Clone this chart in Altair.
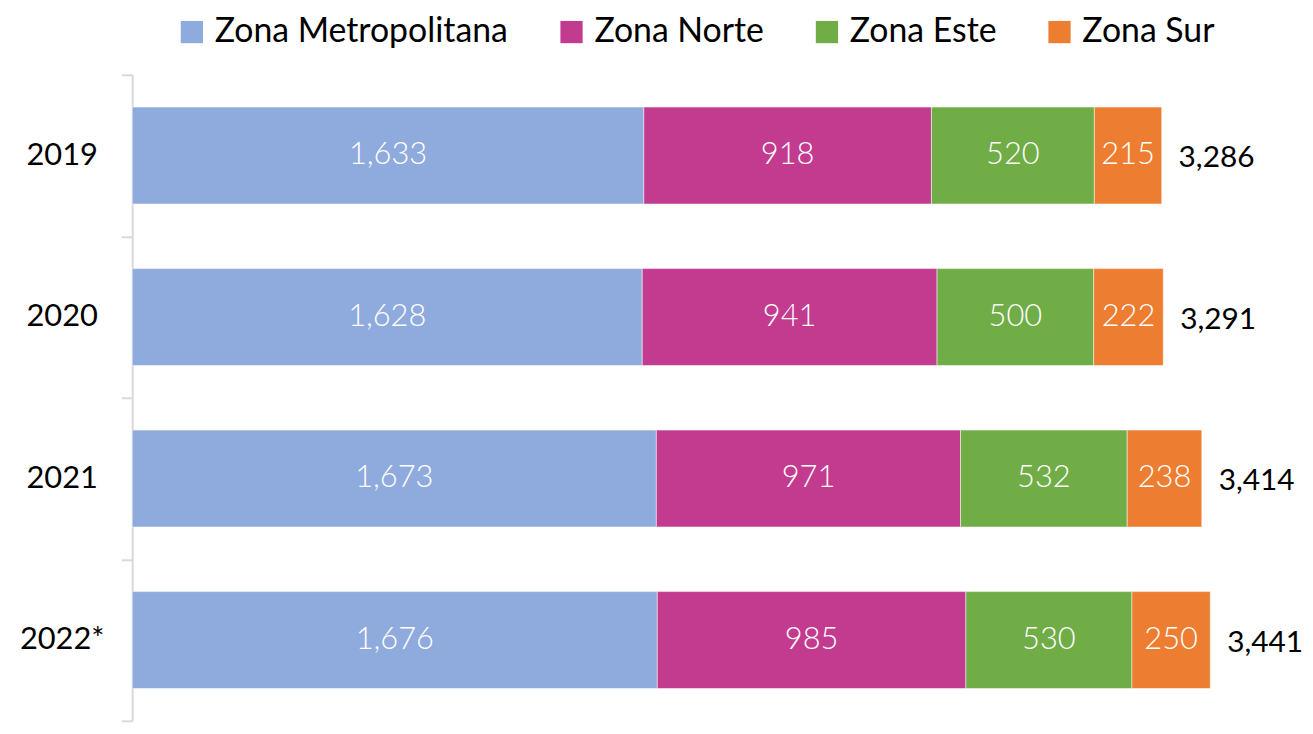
import altair as alt
import pandas as pd

years = ["2019", "2020", "2021", "2022*"]
zones = ["Zona Metropolitana", "Zona Norte", "Zona Este", "Zona Sur"]
metropolitana = [1633, 1628, 1673, 1676]
norte = [918, 941, 971, 985]
este = [520, 500, 532, 530]
sur = [215, 222, 238, 250]
colors = ["#8FAADC", "#C23B8F", "#70AD47", "#ED7D31"]

series = [metropolitana, norte, este, sur]
rows = []
for zi, (zone, vals) in enumerate(zip(zones, series)):
    for y, v in zip(years, vals):
        rows.append({"year": y, "zone": zone, "order": zi, "value": v})
df = pd.DataFrame(rows)

FONT = "Lato"

base = alt.Chart(df).transform_stack(
    stack="value", groupby=["year"], as_=["x0", "x1"],
    sort=[alt.SortField("order", order="ascending")]
).transform_calculate(mid="(datum.x0 + datum.x1) / 2")

y_scale = alt.Scale(paddingInner=0, paddingOuter=0)
y_enc = alt.Y(
    "year:N", sort=years, title=None, scale=y_scale,
    axis=alt.Axis(
        domainColor="#D9D9D9", domainWidth=2, tickColor="#D9D9D9", tickWidth=2,
        tickSize=11, tickBand="extent", labelAlign="center", labelPadding=60,
        labelFont=FONT, labelFontSize=31, labelColor="#000000", grid=False,
    ),
)
x_scale = alt.Scale(domain=[0, 3680], nice=False)

bars = base.mark_bar(stroke="white", strokeWidth=0.5, height={"band": 0.6}).encode(
    x=alt.X("x0:Q", scale=x_scale, axis=None),
    x2="x1:Q",
    y=y_enc,
    color=alt.Color(
        "zone:N", sort=zones, scale=alt.Scale(domain=zones, range=colors),
        legend=alt.Legend(
            title=None, orient="none", direction="horizontal", legendX=43, legendY=-60,
            symbolType="square", symbolSize=500, symbolStrokeWidth=0, labelFont=FONT,
            labelFontSize=34, labelColor="#000000", columnPadding=46, labelOffset=6,
            symbolOpacity=1, labelLimit=0,
        ),
    ),
)

labels = base.mark_text(color="white", font=FONT, fontSize=31, fontWeight=300).encode(
    x=alt.X("mid:Q", scale=x_scale),
    y=alt.Y("year:N", sort=years, scale=y_scale),
    text=alt.Text("value:Q", format=",d"),
)

totals = alt.Chart(df).transform_aggregate(
    total="sum(value)", groupby=["year"]
).mark_text(align="left", dx=17, dy=3, font=FONT, fontSize=30, color="#000000").encode(
    x=alt.X("total:Q", scale=x_scale),
    y=alt.Y("year:N", sort=years, scale=y_scale),
    text=alt.Text("total:Q", format=",d"),
)

chart = alt.layer(bars, labels, totals).properties(
    width=1160, height=650,
    autosize=alt.AutoSizeParams(type="none"),
    padding={"left": 125, "top": 65, "right": 20, "bottom": 0},
).configure_view(stroke=None)

chart.save("out.html", embed_options={"renderer": "svg", "actions": False})
